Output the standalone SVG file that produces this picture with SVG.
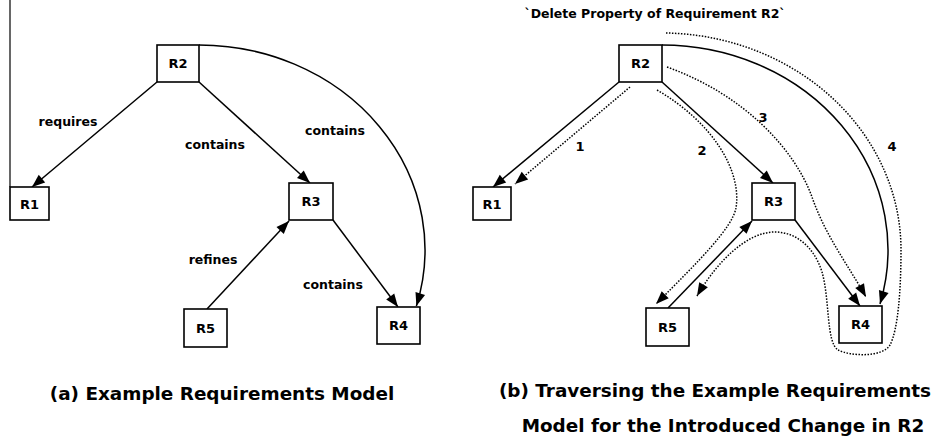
<svg xmlns="http://www.w3.org/2000/svg" width="944" height="436" viewBox="0 0 944 436">
<style>
.box{fill:#fff;stroke:#000;stroke-width:1.6}
.nl{font-family:"DejaVu Sans",Verdana,sans-serif;font-weight:bold;font-size:13px;fill:#000;text-anchor:middle}
.el{font-family:"DejaVu Sans",Verdana,sans-serif;font-weight:bold;font-size:12.5px;fill:#000;text-anchor:middle}
.cap{font-family:"DejaVu Sans",Verdana,sans-serif;font-weight:bold;font-size:18.4px;fill:#000;text-anchor:middle}
.e{fill:none;stroke:#000;stroke-width:1.5;marker-end:url(#ah)}
.d{fill:none;stroke:#000;stroke-width:1.5;stroke-dasharray:1.5 1.5;marker-end:url(#ah)}
</style>
<defs>
<marker id="ah" markerUnits="userSpaceOnUse" markerWidth="13" markerHeight="10" refX="13" refY="5" orient="auto" overflow="visible">
<path d="M0,0 L13,5 L0,10 z" fill="#000" stroke="none"/>
</marker>
</defs>
<line x1="10" y1="0" x2="10" y2="187" stroke="#000" stroke-width="1.2"/>
<g id="connectors">
<path class="e" d="M157,82 L32,187"/>
<path class="e" d="M199,82 L310,183"/>
<path class="e" d="M199,45 A226,205 0 0 1 416.4,306"/>
<path class="e" d="M207,309 L289,221"/>
<path class="e" d="M333,220 L398,307"/>
<path class="e" d="M619,82 L493,187"/>
<path class="e" d="M662,82 L773,183"/>
<path class="e" d="M662,45 A226,205 0 0 1 880,304"/>
<path class="e" d="M668,308 L752,221"/>
<path class="e" d="M795,220 L860,306"/>
<path class="d" d="M630,87 L515,184"/>
<path class="d" d="M657,90 C712,122 742,170 736,208 C732,228 700,260 656,304"/>
<path class="d" d="M667,67 C745,95 795,150 812,197 C825,235 848,265 866,297"/>
<path class="d" d="M666,33 A240,217 0 0 1 901,250 C901,290 898,330 890,345 C882,358 850,356 838,350 C826,342 830,300 822,272 C814,246 795,232 775,232 C745,232 715,265 697,296"/>
</g>
<g id="labels">
<text class="el" x="68" y="126">requires</text>
<text class="el" x="215" y="149">contains</text>
<text class="el" x="335" y="135">contains</text>
<text class="el" x="213" y="264">refines</text>
<text class="el" x="333" y="289">contains</text>
<text class="nl" x="580" y="151">1</text>
<text class="nl" x="702" y="155">2</text>
<text class="nl" x="763" y="122">3</text>
<text class="nl" x="892" y="151">4</text>
<text class="el" x="655" y="18">`Delete Property of Requirement R2`</text>
</g>
<g id="a-R2"><rect class="box" x="157" y="45" width="42" height="37"/><text class="nl" x="178" y="68">R2</text></g>
<g id="a-R1"><rect class="box" x="10" y="187" width="39" height="33"/><text class="nl" x="29.5" y="208.5">R1</text></g>
<g id="a-R3"><rect class="box" x="289" y="183" width="44" height="37"/><text class="nl" x="311" y="206">R3</text></g>
<g id="a-R5"><rect class="box" x="184" y="309" width="43" height="38"/><text class="nl" x="205.5" y="332.5">R5</text></g>
<g id="a-R4"><rect class="box" x="377" y="307" width="43" height="37"/><text class="nl" x="398.5" y="330">R4</text></g>
<g id="b-R2"><rect class="box" x="619" y="45" width="43" height="37"/><text class="nl" x="640.5" y="68">R2</text></g>
<g id="b-R1"><rect class="box" x="473" y="187" width="38" height="33"/><text class="nl" x="492" y="208.5">R1</text></g>
<g id="b-R3"><rect class="box" x="752" y="183" width="43" height="37"/><text class="nl" x="773.5" y="206">R3</text></g>
<g id="b-R5"><rect class="box" x="646" y="308" width="43" height="38"/><text class="nl" x="667.5" y="331.5">R5</text></g>
<g id="b-R4"><rect class="box" x="839" y="306" width="43" height="37"/><text class="nl" x="860.5" y="329">R4</text></g>
<g id="captions">
<text class="cap" x="222" y="399.5" font-size="18.6">(a) Example Requirements Model</text>
<text class="cap" x="715" y="397">(b) Traversing the Example Requirements</text>
<text class="cap" x="723" y="432" font-size="18.6">Model for the Introduced Change in R2</text>
</g>
</svg>
